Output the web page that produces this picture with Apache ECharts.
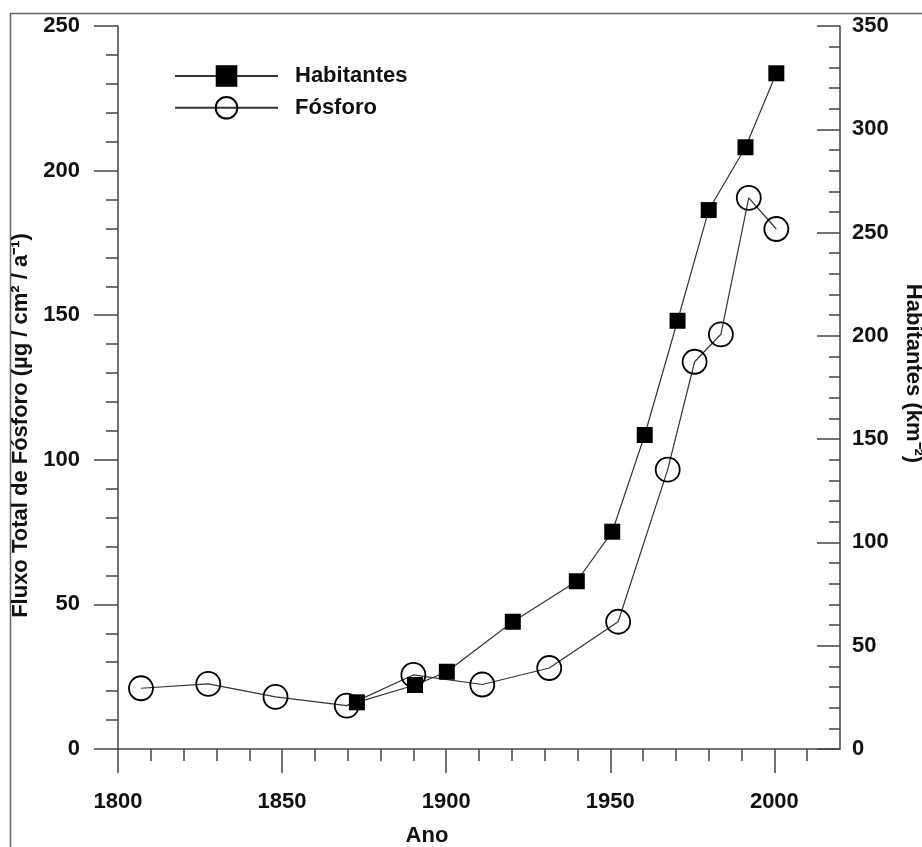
<!DOCTYPE html>
<html>
<head>
<meta charset="utf-8">
<script src="https://cdn.jsdelivr.net/npm/echarts@6/dist/echarts.min.js"></script>
<style>
  html, body { margin: 0; padding: 0; background: #fff; overflow: hidden; }
  #chart { width: 922px; height: 847px; }
</style>
</head>
<body>
<div id="chart"></div>
<script>
// valores
var fosforoAnos = [1807, 1827.5, 1848, 1869.7, 1890, 1911, 1931.4, 1952.4, 1967.5, 1975.7, 1983.7, 1992.2, 2000.6];
var fosforoValores = [21.0, 22.5, 18.0, 15.0, 25.6, 22.3, 28.0, 44.0, 96.6, 133.9, 143.4, 190.6, 179.8];
var habitantesAnos = [1872.8, 1890.5, 1900.2, 1920.3, 1939.8, 1950.6, 1960.5, 1970.5, 1980.0, 1991.2, 2000.6];
var habitantesValores = [22.6, 31.0, 37.4, 61.6, 81.2, 105.2, 152.0, 207.3, 260.9, 291.3, 327.1];
var anosRotulos = [1800, 1850, 1900, 1950, 2000];

var fonte = 'Liberation Sans, Arial, sans-serif';
var corEixo = '#444';

function pares(xs, ys) {
  return xs.map(function (x, i) { return [x, ys[i]]; });
}

var chartDom = document.getElementById('chart');
var myChart = echarts.init(chartDom);
var option = {
  backgroundColor: '#fff',
  animation: false,
  textStyle: { fontFamily: fonte },
  grid: { left: 118, right: 82, top: 26, bottom: 98, outerBoundsMode: 'none' },
  graphic: [{
    type: 'rect',
    shape: { x: 10.5, y: 13.5, width: 1000, height: 1000 },
    style: { fill: 'none', stroke: '#666', lineWidth: 1.5 },
    silent: true
  }],
  legend: {
    orient: 'vertical',
    left: 174,
    top: 65,
    padding: 0,
    itemWidth: 103,
    itemHeight: 27,
    itemGap: 9,
    data: ['Habitantes', 'Fósforo'],
    textStyle: {
      fontFamily: fonte, fontSize: 22, fontWeight: 'bold', color: '#111',
      padding: [0, 0, 0, 12]
    }
  },
  xAxis: {
    type: 'value',
    min: 1800,
    max: 2020,
    interval: 50,
    name: 'Ano',
    nameLocation: 'middle',
    nameGap: 76,
    nameTextStyle: { fontSize: 22, fontWeight: 'bold', color: '#111', padding: [0, 104, 0, 0] },
    splitLine: { show: false },
    axisLine: { lineStyle: { color: corEixo, width: 1.5 } },
    axisTick: { length: 24, customValues: anosRotulos, lineStyle: { color: corEixo, width: 1.5 } },
    minorTick: { show: true, splitNumber: 5, length: 12, lineStyle: { color: corEixo, width: 1.5 } },
    axisLabel: {
      customValues: anosRotulos,
      formatter: function (v) { return String(v); },
      margin: 42, fontSize: 22, fontWeight: 'bold', color: '#111'
    }
  },
  yAxis: [{
    type: 'value',
    position: 'left',
    min: 0,
    max: 250,
    interval: 50,
    name: 'Fluxo Total de Fósforo (µg / cm² / a⁻¹)',
    nameLocation: 'middle',
    nameRotate: 90,
    nameGap: 85,
    nameTextStyle: { fontSize: 22, fontWeight: 'bold', color: '#111', padding: [0, 76, 0, 0] },
    splitLine: { show: false },
    axisLine: { show: true, lineStyle: { color: corEixo, width: 1.5 } },
    axisTick: { show: true, length: 24, lineStyle: { color: corEixo, width: 1.5 } },
    minorTick: { show: true, splitNumber: 5, length: 12, lineStyle: { color: corEixo, width: 1.5 } },
    axisLabel: { margin: 38, fontSize: 22, fontWeight: 'bold', color: '#111' }
  }, {
    type: 'value',
    position: 'right',
    min: 0,
    max: 350,
    interval: 50,
    name: 'Habitantes (km⁻²)',
    nameLocation: 'middle',
    nameRotate: -90,
    nameGap: 62,
    nameTextStyle: { fontSize: 22, fontWeight: 'bold', color: '#111', padding: [0, 28, 0, 0] },
    splitLine: { show: false },
    axisLine: { show: true, lineStyle: { color: corEixo, width: 1.5 } },
    axisTick: { show: true, inside: true, length: 23, lineStyle: { color: corEixo, width: 1.5 } },
    minorTick: { show: true, splitNumber: 5, length: 11, lineStyle: { color: corEixo, width: 1.5 } },
    axisLabel: { margin: 12, fontSize: 22, fontWeight: 'bold', color: '#111' }
  }],
  series: [{
    name: 'Fósforo',
    type: 'line',
    yAxisIndex: 0,
    symbol: 'circle',
    symbolSize: 24,
    itemStyle: { color: 'rgba(0,0,0,0)', borderColor: '#000', borderWidth: 1.8 },
    lineStyle: { color: '#333', width: 1.2 },
    data: pares(fosforoAnos, fosforoValores)
  }, {
    name: 'Habitantes',
    type: 'line',
    yAxisIndex: 1,
    symbol: 'rect',
    symbolSize: 16,
    itemStyle: { color: '#000' },
    lineStyle: { color: '#333', width: 1.2 },
    data: pares(habitantesAnos, habitantesValores)
  }]
};
myChart.setOption(option);
</script>
</body>
</html>
